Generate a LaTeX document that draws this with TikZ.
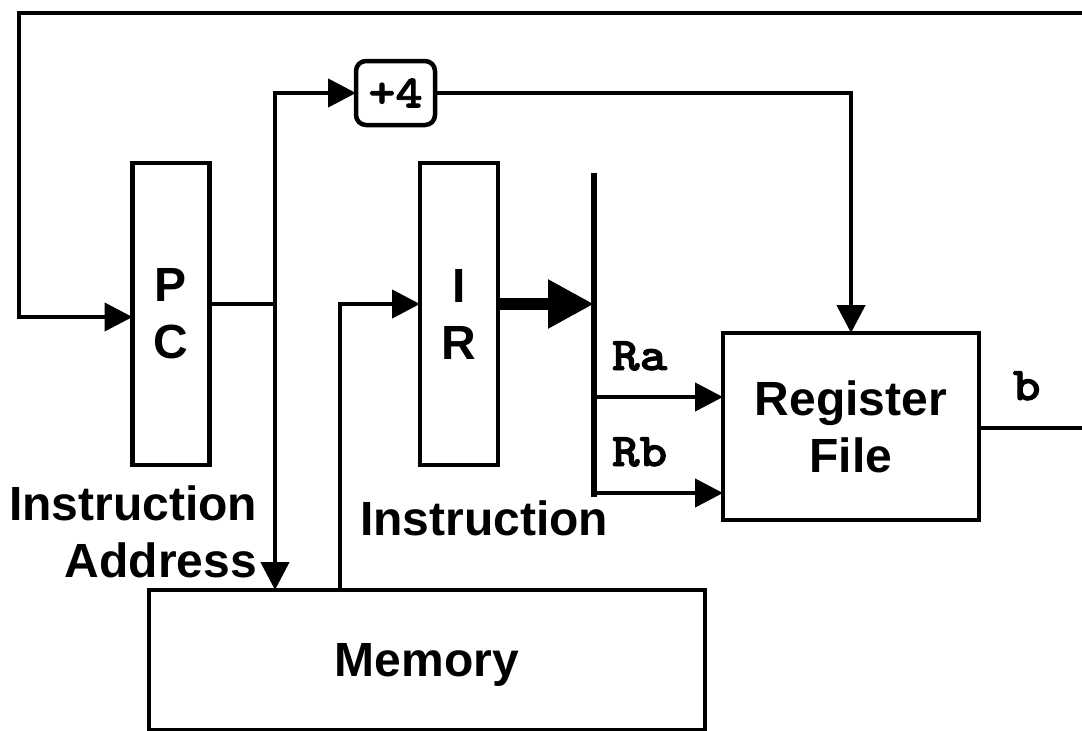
\documentclass[tikz,border=0pt]{standalone}
\usepackage{fontspec}
\setmainfont{Liberation Sans}
\newfontfamily\monofam[FakeBold=2,FakeStretch=1.12]{lmmonolt10-bold.otf}
\usetikzlibrary{arrows.meta}
\newcommand\lblfont{\fontsize{48}{57}\selectfont\bfseries}
\newcommand\codefont{\monofam\fontsize{47}{56}\selectfont}
\newcommand\incfont{\monofam\fontsize{46}{52}\selectfont}
\begin{document}
\begin{tikzpicture}[x=1pt,y=-1pt,
  every node/.style={inner sep=0pt, outer sep=0pt},
  blk/.style={draw, line width=4.5pt, font=\lblfont, align=center},
  wire/.style={line width=4.5pt},
  arr/.style={wire, -{Triangle[length=28pt,width=28pt]}},
  bigarr/.style={line width=12pt, -{Triangle[length=46pt,width=46pt]}},
  lbl/.style={font=\lblfont},
  code/.style={font=\codefont}
]
\useasboundingbox (0,0) rectangle (1082,731);

% blocks
\node[blk, minimum width=77pt, minimum height=302pt] (PC) at (171,314) {P\\C};
\node[blk, minimum width=78pt, minimum height=302pt] (IR) at (459,314) {I\\R};
\node[blk, rounded corners=10pt, minimum width=79pt, minimum height=64pt, font=\incfont] (P4) at (395.5,93) {+4};
\node[blk, minimum width=256pt, minimum height=187pt] (RF) at (851,426.5) {Register\\File};
\node[blk, minimum width=556pt, minimum height=140pt, text depth=0pt] (MEM) at (427,660) {Memory};

% junction coordinates
\coordinate (fbR) at (1082,13);
\coordinate (fbL) at (19,13);
\coordinate (fbin) at (0,317);
\coordinate (j1) at (275,304);
\coordinate (j2) at (340,304);
\coordinate (busT) at (594,173);
\coordinate (busB) at (594,497);
\coordinate (ra) at (594,397);
\coordinate (rb) at (594,493);
\coordinate (bout) at (1082,428);

% feedback from the right
\draw[arr] (fbR) -- (fbL) |- (PC.west |- fbin);
% PC to memory address
\draw[arr] (PC.east |- j1) -- (j1) -- (j1 |- MEM.north);
% PC to +4
\draw[arr] (j1) |- (P4.west);
% +4 to register file
\draw[arr] (P4.east) -| (RF.north);
% memory to IR
\draw[arr] (MEM.north -| j2) -- (j2) -- (IR.west |- j2);
% IR to bus
\draw[bigarr] (IR.east |- j2) -- (busT |- j2);
\draw[line width=6pt] (busT) -- (busB);
% Ra, Rb
\draw[arr] (ra) -- (ra -| RF.west);
\draw[arr] (rb) -- (rb -| RF.west);
% b output
\draw[wire] (RF.east |- bout) -- (bout);

% labels
\node[lbl, anchor=base east] (la1) at (257,520) {Instruction};
\node[lbl, anchor=base east] (la2) at (257,577) {Address};
\node[lbl, anchor=base west] (li) at (360,535) {Instruction};
\node[code, anchor=base west] (lra) at (612,370) {Ra};
\node[code, anchor=base west] (lrb) at (612,466) {Rb};
\node[code, anchor=base west] (lb) at (1013,400) {b};
\end{tikzpicture}
\end{document}
